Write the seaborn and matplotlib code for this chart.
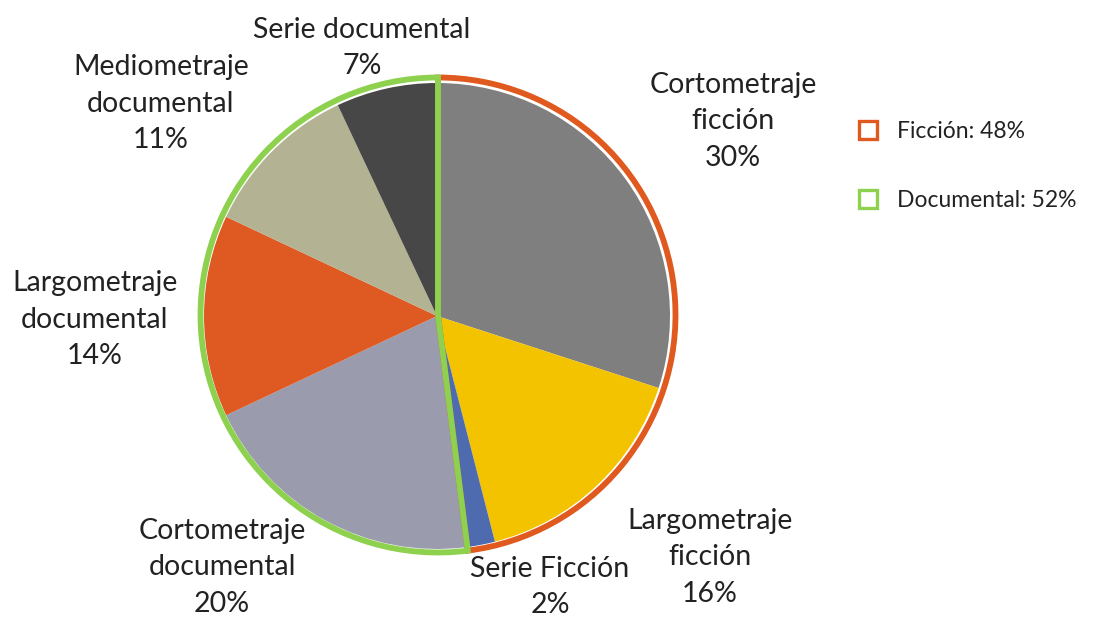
import matplotlib
matplotlib.use("Agg")
import matplotlib.pyplot as plt
from matplotlib.lines import Line2D
import seaborn as sns

# ---- data ----
categories = ["Cortometraje ficción", "Largometraje ficción", "Serie Ficción",
              "Cortometraje documental", "Largometraje documental",
              "Mediometraje documental", "Serie documental"]
label_text = ["Cortometraje\nficción", "Largometraje\nficción", "Serie Ficción",
              "Cortometraje\ndocumental", "Largometraje\ndocumental",
              "Mediometraje\ndocumental", "Serie documental"]
shares = [30, 16, 2, 20, 14, 11, 7]
groups = ["Ficción", "Documental"]
group_shares = [48, 52]

slice_colors = ["#7f7f7f", "#f4c300", "#4f6bb0", "#9a9bac", "#de5a22", "#b3b394", "#474747"]
group_colors = ["#e05a20", "#8ed14f"]

sns.set_theme(style="white")
plt.rcParams['font.family'] = ['Lato', 'DejaVu Sans']

W, H = 1102, 617
fig = plt.figure(figsize=(W / 100, H / 100), dpi=100)
ax = fig.add_axes([0, 0, 1, 1])

def py(y):
    return H - y

# inner pie
ax.pie(shares, colors=sns.color_palette(slice_colors), startangle=90, counterclock=False,
       center=(437, py(316)), radius=233, frame=True,
       wedgeprops=dict(linewidth=0))
# outer ring outlines
ax.pie(group_shares, colors=["none", "none"], startangle=90, counterclock=False,
       center=(438, py(315)), radius=237.5, frame=True,
       wedgeprops=dict(facecolor="none", linewidth=4.2))
for w, c in zip(ax.patches[len(shares):], group_colors):
    w.set_edgecolor(c)
    w.set_facecolor("none")

# labels (pixel positions of label centers)
label_pos = [(733, 121), (710, 557), (550, 587), (222, 567), (95, 320), (161, 104), (362, 48)]
for txt, s, (x, y) in zip(label_text, shares, label_pos):
    ax.text(x, py(y), f"{txt}\n{s}%", ha="center", va="center", fontsize=20.5,
            linespacing=1.5, color="#222222")

# legend
handles = [Line2D([], [], marker="s", linestyle="none", markersize=13,
                  markerfacecolor="white", markeredgecolor=c, markeredgewidth=2.4)
           for c in group_colors]
labels = [f"{g}: {v}%" for g, v in zip(groups, group_shares)]
ax.legend(handles, labels, loc="upper left", bbox_to_anchor=(824 / W, 1 - 100 / H),
          frameon=False, fontsize=16.5, labelspacing=2.1, handletextpad=0.3,
          labelcolor="#222222")

ax.set_xlim(0, W)
ax.set_ylim(0, H)
ax.set_aspect("equal")
ax.axis("off")
fig.savefig("out.png", dpi=100, facecolor="white")
